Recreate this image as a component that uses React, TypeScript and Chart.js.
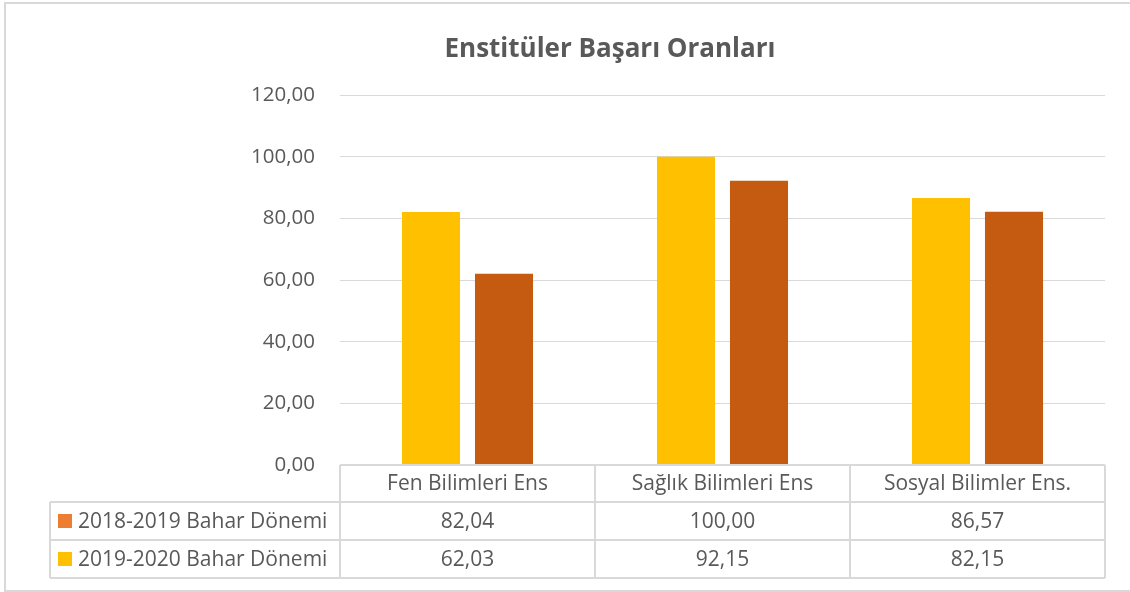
import React, { useEffect, useRef } from "react";
import { Chart, registerables } from "chart.js";

Chart.register(...registerables);

const TITLE = "Enstitüler Başarı Oranları";
const categories = ["Fen Bilimleri Ens", "Sağlık Bilimleri Ens", "Sosyal Bilimler Ens."];
const seriesNames = ["2018-2019 Bahar Dönemi", "2019-2020 Bahar Dönemi"];
const values2018 = [82.04, 100.0, 86.57];
const values2019 = [62.03, 92.15, 82.15];
const barColors = ["#FFC000", "#C55A11"];
const legendKeyColors = ["#ED7D31", "#FFC000"];
const yTicks = { min: 0, max: 120, step: 20 };

const FONT = "'Open Sans', 'Noto Sans', sans-serif";
const TEXT = "#595959";
const LINE = "#d9d9d9";

const fmt = (v: number) => v.toFixed(2).replace(".", ",");

const tablePlugin = {
  id: "tablePlugin",
  afterDraw(chart: any) {
    const ctx = chart.ctx as CanvasRenderingContext2D;
    const area = chart.chartArea;
    const xs = chart.scales.x;
    const n = categories.length;
    const cw = (area.right - area.left) / n;
    ctx.save();

    // outer border (left, top, bottom)
    ctx.strokeStyle = LINE;
    ctx.lineWidth = 2;
    ctx.beginPath();
    ctx.moveTo(1132, 3);
    ctx.lineTo(5, 3);
    ctx.lineTo(5, 591);
    ctx.lineTo(1132, 591);
    ctx.stroke();

    // title
    ctx.fillStyle = TEXT;
    ctx.font = `bold 26px ${FONT}`;
    ctx.textAlign = "center";
    ctx.textBaseline = "middle";
    ctx.fillText(TITLE, 610, 50);

    const top = area.bottom;
    const hdrB = top + 37;
    const r1B = hdrB + 38;
    const r2B = r1B + 38;
    const legendLeft = 50;

    ctx.strokeStyle = LINE;
    ctx.lineWidth = 2;
    ctx.beginPath();
    ctx.moveTo(area.left, top);
    ctx.lineTo(area.right, top);
    [hdrB, r1B, r2B].forEach((y) => {
      ctx.moveTo(legendLeft, y);
      ctx.lineTo(area.right, y);
    });
    ctx.moveTo(legendLeft, hdrB);
    ctx.lineTo(legendLeft, r2B);
    for (let i = 0; i <= n; i++) {
      const x = area.left + i * cw;
      ctx.moveTo(x, top);
      ctx.lineTo(x, r2B);
    }
    ctx.stroke();

    ctx.font = `21px ${FONT}`;
    ctx.fillStyle = TEXT;
    ctx.textAlign = "center";
    ctx.textBaseline = "middle";
    categories.forEach((c, i) => {
      const cx = xs.getPixelForValue(i);
      ctx.fillText(c, cx, (top + hdrB) / 2 + 1);
      ctx.fillText(fmt(values2018[i]), cx, (hdrB + r1B) / 2 + 1);
      ctx.fillText(fmt(values2019[i]), cx, (r1B + r2B) / 2 + 1);
    });

    const rows = [(hdrB + r1B) / 2, (r1B + r2B) / 2];
    seriesNames.forEach((s, i) => {
      const cy = rows[i];
      ctx.fillStyle = legendKeyColors[i];
      ctx.fillRect(58, cy - 7, 14, 14);
      ctx.fillStyle = TEXT;
      ctx.textAlign = "left";
      ctx.fillText(s, 78, cy + 1);
    });
    ctx.restore();
  },
};

export default function App() {
  const ref = useRef<HTMLCanvasElement | null>(null);
  useEffect(() => {
    if (!ref.current) return;
    const chart = new Chart(ref.current, {
      type: "bar",
      data: {
        labels: categories,
        datasets: [
          {
            label: seriesNames[0],
            data: values2018,
            backgroundColor: barColors[0],
            categoryPercentage: 0.5725,
            barPercentage: 0.795,
          },
          {
            label: seriesNames[1],
            data: values2019,
            backgroundColor: barColors[1],
            categoryPercentage: 0.5725,
            barPercentage: 0.795,
          },
        ],
      },
      options: {
        responsive: false,
        animation: false,
        devicePixelRatio: 1,
        layout: { padding: { left: 0, right: 25, top: 95, bottom: 127 } },
        plugins: {
          legend: { display: false },
          title: { display: false },
          tooltip: { enabled: false },
        },
        scales: {
          x: { display: false },
          y: {
            min: yTicks.min,
            max: yTicks.max,
            afterFit(scale: any) {
              scale.width = 340;
            },
            ticks: {
              stepSize: yTicks.step,
              padding: 25,
              color: TEXT,
              font: { family: FONT, size: 20.5 },
              callback: (v: any) => fmt(Number(v)),
            },
            grid: { color: LINE, lineWidth: 1, drawTicks: false },
            border: { display: false },
          },
        },
      },
      plugins: [tablePlugin],
    });
    return () => chart.destroy();
  }, []);
  return (
    <div style={{ position: "fixed", left: 0, top: 0, width: 1130, height: 592, background: "#fff" }}>
      <canvas ref={ref} width={1130} height={592} />
    </div>
  );
}
